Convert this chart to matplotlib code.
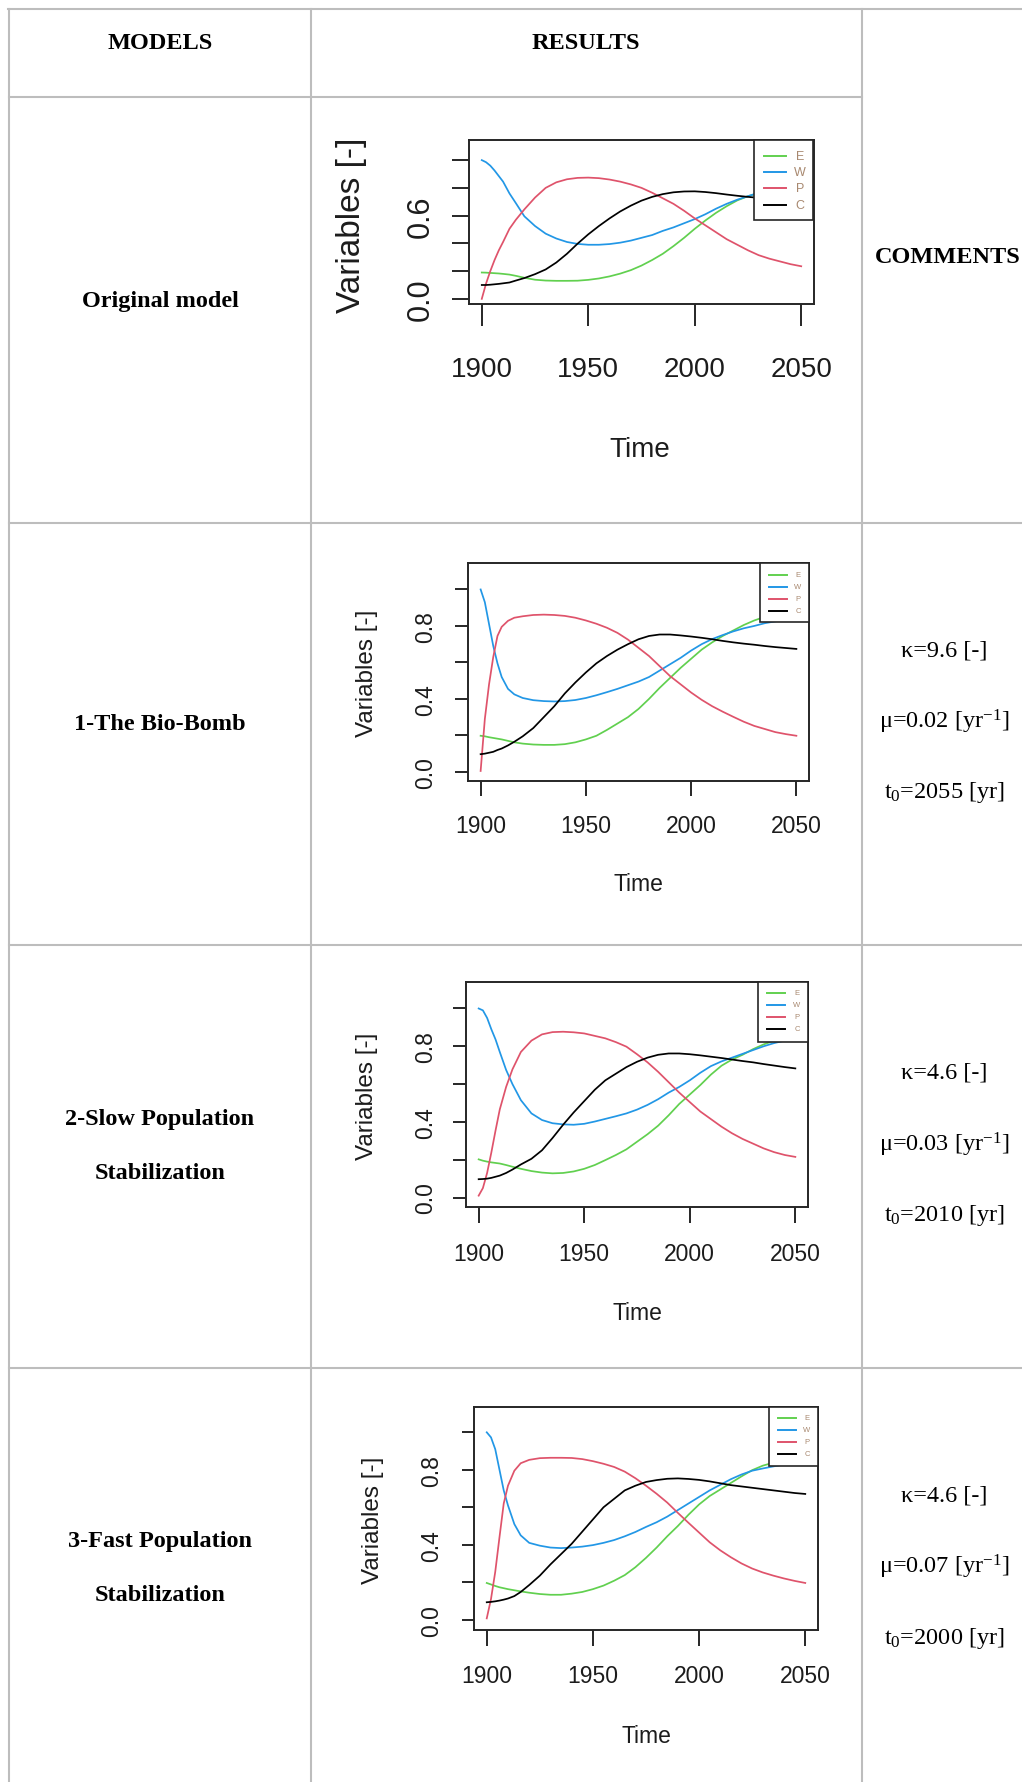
import matplotlib
matplotlib.use("Agg")
import matplotlib.pyplot as plt
from matplotlib.transforms import Affine2D, blended_transform_factory
from matplotlib.lines import Line2D
from matplotlib.patches import Rectangle

plt.rcParams["mathtext.fontset"] = "custom"
plt.rcParams["mathtext.rm"] = "Liberation Serif"
plt.rcParams["mathtext.it"] = "Liberation Serif:italic"

# ---------------------------------------------------------------- data
YEARS = [1900, 1902, 1904, 1906, 1908, 1910, 1913, 1916, 1920, 1925, 1930,
         1935, 1940, 1945, 1950, 1955, 1960, 1965, 1970, 1975, 1980, 1985,
         1990, 1995, 2000, 2005, 2010, 2015, 2020, 2025, 2030, 2035, 2040,
         2045, 2050]

SERIES_NAMES = ["E", "W", "P", "C"]

# Original model
E_ORIG = [0.190, 0.189, 0.187, 0.185, 0.183, 0.180, 0.175, 0.166, 0.152, 0.138,
          0.132, 0.130, 0.130, 0.131, 0.137, 0.147, 0.162, 0.182, 0.207, 0.240,
          0.280, 0.325, 0.380, 0.440, 0.505, 0.565, 0.620, 0.668, 0.710, 0.740,
          0.762, 0.778, 0.790, 0.800, 0.810]
W_ORIG = [1.000, 0.985, 0.960, 0.925, 0.885, 0.845, 0.760, 0.690, 0.595, 0.525,
          0.470, 0.435, 0.410, 0.396, 0.390, 0.390, 0.395, 0.405, 0.420, 0.440,
          0.460, 0.490, 0.515, 0.545, 0.575, 0.610, 0.650, 0.685, 0.715, 0.740,
          0.765, 0.785, 0.800, 0.815, 0.830]
P_ORIG = [0.000, 0.110, 0.200, 0.280, 0.350, 0.410, 0.505, 0.570, 0.645, 0.730,
          0.800, 0.840, 0.862, 0.872, 0.874, 0.870, 0.860, 0.845, 0.825, 0.800,
          0.765, 0.725, 0.685, 0.635, 0.580, 0.530, 0.480, 0.430, 0.390, 0.350,
          0.315, 0.290, 0.270, 0.250, 0.235]
C_ORIG = [0.100, 0.100, 0.102, 0.105, 0.108, 0.112, 0.118, 0.132, 0.150, 0.178,
          0.212, 0.262, 0.325, 0.398, 0.465, 0.525, 0.580, 0.630, 0.672, 0.708,
          0.735, 0.755, 0.768, 0.774, 0.775, 0.770, 0.762, 0.752, 0.743, 0.735,
          0.728, 0.720, 0.710, 0.700, 0.690]

# 1-The Bio-Bomb
E_BIO = [0.198, 0.195, 0.190, 0.186, 0.182, 0.178, 0.170, 0.162, 0.155, 0.150,
         0.148, 0.148, 0.152, 0.162, 0.178, 0.198, 0.230, 0.265, 0.300, 0.345,
         0.400, 0.460, 0.515, 0.570, 0.620, 0.670, 0.710, 0.745, 0.775, 0.805,
         0.830, 0.850, 0.865, 0.875, 0.885]
W_BIO = [1.000, 0.930, 0.810, 0.690, 0.595, 0.520, 0.455, 0.425, 0.405, 0.393,
         0.388, 0.386, 0.388, 0.394, 0.405, 0.420, 0.437, 0.455, 0.475, 0.495,
         0.520, 0.555, 0.590, 0.625, 0.665, 0.700, 0.728, 0.750, 0.770, 0.787,
         0.800, 0.815, 0.825, 0.835, 0.845]
P_BIO = [0.005, 0.290, 0.480, 0.630, 0.745, 0.795, 0.828, 0.845, 0.853, 0.860,
         0.862, 0.860, 0.855, 0.845, 0.830, 0.812, 0.790, 0.762, 0.725, 0.680,
         0.635, 0.580, 0.525, 0.480, 0.435, 0.395, 0.360, 0.330, 0.302, 0.275,
         0.252, 0.235, 0.218, 0.207, 0.198]
C_BIO = [0.097, 0.100, 0.105, 0.110, 0.120, 0.128, 0.145, 0.165, 0.195, 0.240,
         0.300, 0.360, 0.430, 0.490, 0.545, 0.595, 0.635, 0.670, 0.700, 0.727,
         0.745, 0.753, 0.753, 0.748, 0.742, 0.735, 0.727, 0.718, 0.710, 0.703,
         0.697, 0.690, 0.684, 0.679, 0.674]

# 2-Slow Population Stabilization
E_SLOW = [0.202, 0.195, 0.190, 0.186, 0.183, 0.180, 0.172, 0.163, 0.152, 0.140,
          0.132, 0.128, 0.130, 0.138, 0.152, 0.172, 0.198, 0.225, 0.255, 0.295,
          0.335, 0.380, 0.435, 0.495, 0.545, 0.595, 0.650, 0.697, 0.730, 0.755,
          0.785, 0.810, 0.830, 0.845, 0.855]
W_SLOW = [1.000, 0.990, 0.950, 0.890, 0.836, 0.770, 0.675, 0.600, 0.515, 0.445,
          0.410, 0.393, 0.387, 0.385, 0.390, 0.402, 0.416, 0.430, 0.445, 0.465,
          0.490, 0.520, 0.555, 0.585, 0.620, 0.660, 0.695, 0.720, 0.740, 0.760,
          0.780, 0.800, 0.817, 0.830, 0.840]
P_SLOW = [0.010, 0.050, 0.130, 0.238, 0.355, 0.466, 0.585, 0.678, 0.770, 0.830,
          0.863, 0.875, 0.877, 0.874, 0.868, 0.855, 0.842, 0.822, 0.798, 0.758,
          0.715, 0.665, 0.610, 0.555, 0.505, 0.455, 0.415, 0.375, 0.340, 0.310,
          0.285, 0.260, 0.240, 0.225, 0.215]
C_SLOW = [0.097, 0.098, 0.100, 0.104, 0.110, 0.116, 0.130, 0.148, 0.175, 0.205,
          0.250, 0.315, 0.385, 0.450, 0.510, 0.570, 0.620, 0.655, 0.690, 0.718,
          0.740, 0.755, 0.762, 0.762, 0.758, 0.752, 0.745, 0.738, 0.730, 0.722,
          0.715, 0.706, 0.698, 0.690, 0.683]

# 3-Fast Population Stabilization
E_FAST = [0.196, 0.188, 0.180, 0.173, 0.168, 0.163, 0.157, 0.151, 0.144, 0.137,
          0.133, 0.133, 0.139, 0.148, 0.163, 0.182, 0.208, 0.238, 0.280, 0.330,
          0.385, 0.445, 0.500, 0.560, 0.615, 0.660, 0.695, 0.730, 0.765, 0.798,
          0.822, 0.838, 0.850, 0.860, 0.870]
W_FAST = [1.000, 0.973, 0.910, 0.800, 0.690, 0.610, 0.510, 0.450, 0.410, 0.395,
          0.385, 0.382, 0.385, 0.390, 0.398, 0.410, 0.425, 0.445, 0.468, 0.495,
          0.520, 0.550, 0.585, 0.620, 0.655, 0.690, 0.720, 0.750, 0.775, 0.795,
          0.807, 0.818, 0.828, 0.837, 0.845]
P_FAST = [0.007, 0.110, 0.255, 0.440, 0.620, 0.715, 0.795, 0.835, 0.853, 0.862,
          0.864, 0.864, 0.863, 0.857, 0.846, 0.832, 0.815, 0.790, 0.755, 0.715,
          0.672, 0.625, 0.570, 0.517, 0.465, 0.413, 0.370, 0.333, 0.300, 0.273,
          0.252, 0.235, 0.220, 0.207, 0.196]
C_FAST = [0.093, 0.095, 0.098, 0.102, 0.107, 0.113, 0.126, 0.148, 0.185, 0.235,
          0.295, 0.350, 0.405, 0.470, 0.535, 0.600, 0.645, 0.690, 0.715, 0.735,
          0.745, 0.752, 0.754, 0.751, 0.746, 0.738, 0.728, 0.718, 0.711, 0.704,
          0.697, 0.690, 0.683, 0.676, 0.671]

X_TICKS = [1900, 1950, 2000, 2050]
Y_TICKS = [0.0, 0.2, 0.4, 0.6, 0.8, 1.0]
Y_LABELS_ORIG = {0.0: "0.0", 0.6: "0.6"}
Y_LABELS_SCEN = {0.0: "0.0", 0.4: "0.4", 0.8: "0.8"}

MODEL_NAMES = ["Original model", "1-The Bio-Bomb",
               "2-Slow Population\nStabilization",
               "3-Fast Population\nStabilization"]
COMMENTS = [
    None,
    ["κ=9.6 [-]", "μ=0.02 [yr$^{\\mathregular{-1}}$]", "t$_{\\mathregular{0}}$=2055 [yr]"],
    ["κ=4.6 [-]", "μ=0.03 [yr$^{\\mathregular{-1}}$]", "t$_{\\mathregular{0}}$=2010 [yr]"],
    ["κ=4.6 [-]", "μ=0.07 [yr$^{\\mathregular{-1}}$]", "t$_{\\mathregular{0}}$=2000 [yr]"],
]

SERIES = [
    [E_ORIG, W_ORIG, P_ORIG, C_ORIG],
    [E_BIO, W_BIO, P_BIO, C_BIO],
    [E_SLOW, W_SLOW, P_SLOW, C_SLOW],
    [E_FAST, W_FAST, P_FAST, C_FAST],
]
Y_LABELS = [Y_LABELS_ORIG, Y_LABELS_SCEN, Y_LABELS_SCEN, Y_LABELS_SCEN]

# R 4.x default palette for the four variables
COLORS = ["#61D04F", "#2297E6", "#DF536B", "#000000"]

# ---------------------------------------------------------------- layout (pixels)
W, H = 1022, 1783
fig = plt.figure(figsize=(W / 100, H / 100), dpi=100, facecolor="white")
PX = Affine2D().scale(1 / W, -1 / H).translate(0, 1) + fig.transFigure

SANS = "Liberation Sans"
SERIF = "Liberation Serif"
INK = "#1c1c1c"

# plot panels: box (l, r, t, b), tick lengths, text sizes / centres, legend geometry
PANELS = [
    dict(box=(469, 814, 141, 305), ylim=(-0.037, 1.145), ytl=17, xtl=22,
         tick_fs=20, ytick_fs=22, xlab_y=367, ylab_x=418,
         title_fs=20, time_xy=(640, 447), var_fs=24, var_xy=(351, 225),
         leg=(754, 813, 141, 221), leg_line=(764, 786), leg_tx=800,
         leg_rows=(157, 173, 189, 206), leg_fs=9),
    dict(box=(468, 809, 564, 782), ylim=(-0.05, 1.145), ytl=13, xtl=15,
         tick_fs=16.5, ytick_fs=16.5, xlab_y=825, ylab_x=424,
         title_fs=16.5, time_xy=(638, 883), var_fs=17.5, var_xy=(367, 673),
         leg=(760, 809, 564, 623), leg_line=(769, 787), leg_tx=798,
         leg_rows=(576, 588, 600, 612), leg_fs=5.5),
    dict(box=(466, 808, 983, 1208), ylim=(-0.05, 1.14), ytl=13, xtl=15.5,
         tick_fs=16.5, ytick_fs=16.5, xlab_y=1253, ylab_x=424,
         title_fs=16.5, time_xy=(637, 1312), var_fs=17.5, var_xy=(367, 1096),
         leg=(758, 808, 983, 1043), leg_line=(767, 785), leg_tx=797,
         leg_rows=(994, 1006, 1018, 1030), leg_fs=5.5),
    dict(box=(474, 818, 1408, 1631), ylim=(-0.055, 1.135), ytl=12.5, xtl=16,
         tick_fs=16.5, ytick_fs=16.5, xlab_y=1675, ylab_x=430,
         title_fs=16.5, time_xy=(646, 1735), var_fs=17.5, var_xy=(373, 1520),
         leg=(769, 818, 1408, 1467), leg_line=(778, 796), leg_tx=807,
         leg_rows=(1419, 1431, 1443, 1455), leg_fs=5.5),
]

# ---------------------------------------------------------------- table grid
GRID = "#bdbdbd"
GRID_LW = 1.5
X_LEFT, X_COL1, X_COL2 = 9, 311, 862
Y_TOP, Y_HEAD, ROW_LINES = 10, 98, (524, 946, 1369)


def hline(y, x0, x1):
    fig.add_artist(Line2D([x0, x1], [y, y], transform=PX, color=GRID, lw=GRID_LW))


def vline(x, y0, y1):
    fig.add_artist(Line2D([x, x], [y0, y1], transform=PX, color=GRID, lw=GRID_LW))


hline(Y_TOP, X_LEFT - 1, W)
hline(Y_HEAD, X_LEFT, X_COL2)
for y in ROW_LINES:
    hline(y, X_LEFT, W)
vline(X_LEFT, Y_TOP, H)
vline(X_COL1, Y_TOP, H)
vline(X_COL2, Y_TOP, H)

# header texts
fig.text(160, 49, "MODELS", transform=PX, ha="center", va="baseline",
         family=SERIF, fontweight="bold", fontsize=17.5, color="black")
fig.text(586, 49, "RESULTS", transform=PX, ha="center", va="baseline",
         family=SERIF, fontweight="bold", fontsize=17.5, color="black")
fig.text(948, 263, "COMMENTS", transform=PX, ha="center", va="baseline",
         family=SERIF, fontweight="bold", fontsize=17.5, color="black")

# model names (visual line centres)
NAME_ROWS = [(299,), (722,), (1117, 1171), (1539, 1593)]
for name, rows in zip(MODEL_NAMES, NAME_ROWS):
    for line, yc in zip(name.split("\n"), rows):
        fig.text(160, yc + 8, line, transform=PX, ha="center", va="baseline",
                 family=SERIF, fontweight="bold", fontsize=17.5, color="black")

# parameter comments
COMMENT_ROWS = [None, (651, 723, 792), (1073, 1146, 1215), (1496, 1568, 1638)]
for lines, rows in zip(COMMENTS, COMMENT_ROWS):
    if lines is None:
        continue
    for line, yc in zip(lines, rows):
        fig.text(944, yc + 6, line, transform=PX, ha="center", va="baseline",
                 family=SERIF, fontsize=17.5, color="black")

# ---------------------------------------------------------------- plots
for series, ylabels, p in zip(SERIES, Y_LABELS, PANELS):
    l, r, t, b = p["box"]
    ax = fig.add_axes([l / W, 1 - b / H, (r - l) / W, (b - t) / H])
    ax.set_facecolor("white")
    for vals, col, name in zip(series, COLORS, SERIES_NAMES):
        ax.plot(YEARS, vals, color=col, lw=1.25, solid_joinstyle="round", label=name)
    ax.set_xlim(1894, 2056)
    ax.set_ylim(*p["ylim"])
    for s in ax.spines.values():
        s.set_linewidth(1.4)
        s.set_color("#262626")

    ax.set_xticks(X_TICKS)
    ax.set_yticks(Y_TICKS)
    ax.tick_params(axis="x", direction="out", length=p["xtl"] * 0.72, width=1.4,
                   color="#262626", labelbottom=False)
    ax.tick_params(axis="y", direction="out", length=p["ytl"] * 0.72, width=1.4,
                   color="#262626", labelleft=False)

    # tick labels placed at data positions
    tx = blended_transform_factory(ax.transData, PX)
    em = p["tick_fs"] / 0.72
    for v in X_TICKS:
        ax.text(v, p["xlab_y"] + 0.36 * em, str(v), transform=tx, ha="center",
                va="baseline", family=SANS, fontsize=p["tick_fs"], color=INK,
                clip_on=False)
    ty = blended_transform_factory(PX, ax.transData)
    em_y = p["ytick_fs"] / 0.72
    for v, lab in ylabels.items():
        ax.text(p["ylab_x"] + 0.36 * em_y, v, lab, transform=ty, rotation=90,
                rotation_mode="anchor", ha="center", va="baseline", family=SANS,
                fontsize=p["ytick_fs"], color=INK, clip_on=False)

    # axis titles
    tem = p["title_fs"] / 0.72
    ax.text(p["time_xy"][0], p["time_xy"][1] + 0.36 * tem, "Time", transform=PX,
            ha="center", va="baseline", family=SANS, fontsize=p["title_fs"],
            color=INK, clip_on=False)
    vem = p["var_fs"] / 0.72
    ax.text(p["var_xy"][0] + 0.26 * vem, p["var_xy"][1], "Variables [-]",
            transform=PX, rotation=90, rotation_mode="anchor", ha="center",
            va="baseline", family=SANS, fontsize=p["var_fs"], color=INK,
            clip_on=False)

    # legend box (top right, white fill)
    ll, lr, lt, lb = p["leg"]
    ax.add_patch(Rectangle((ll, lt), lr - ll, lb - lt, transform=PX,
                           facecolor="white", edgecolor="#262626", lw=1.2,
                           zorder=5, clip_on=False))
    x0, x1 = p["leg_line"]
    for name, col, yr in zip(SERIES_NAMES, COLORS, p["leg_rows"]):
        ax.add_line(Line2D([x0, x1], [yr, yr], transform=PX, color=col, lw=1.4,
                           zorder=6, clip_on=False))
        ax.text(p["leg_tx"], yr, name, transform=PX, ha="center", va="center",
                family=SANS, fontsize=p["leg_fs"], color="#a8886f", zorder=6,
                clip_on=False)

fig.savefig("out.png", dpi=100, facecolor="white")
